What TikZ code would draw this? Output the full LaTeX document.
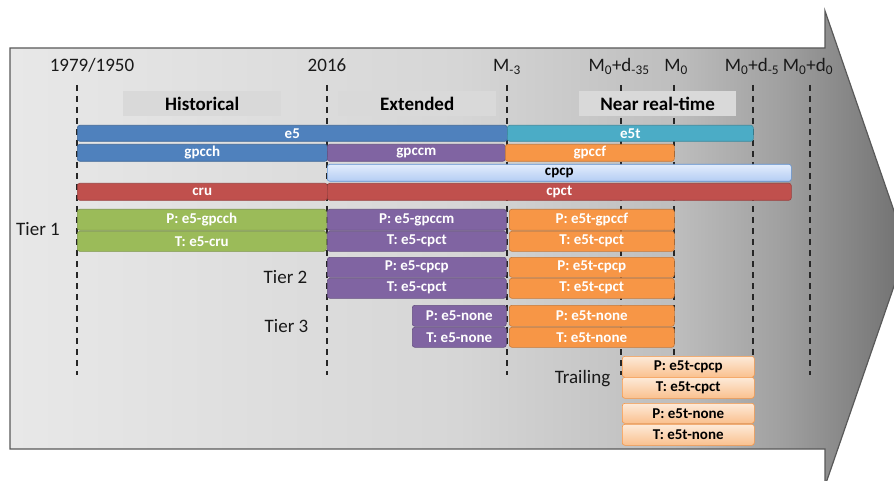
\documentclass[tikz,border=0pt]{standalone}
\usepackage{fontspec}
\setmainfont{Carlito}
\usetikzlibrary{positioning}
\definecolor{eblue}{RGB}{79,129,189}
\definecolor{eteal}{RGB}{75,172,198}
\definecolor{epurple}{RGB}{128,100,162}
\definecolor{eorange}{RGB}{247,150,70}
\definecolor{ered}{RGB}{192,80,77}
\definecolor{egreen}{RGB}{155,187,89}
\definecolor{hdrgray}{RGB}{217,217,217}
\definecolor{cpcpA}{RGB}{226,236,252}
\definecolor{cpcpB}{RGB}{180,205,243}
\definecolor{cpcpE}{RGB}{95,145,210}
\definecolor{trailA}{RGB}{253,234,217}
\definecolor{trailB}{RGB}{250,192,142}
\definecolor{trailE}{RGB}{247,150,70}
\definecolor{bgA}{RGB}{232,232,232}
\definecolor{bgB}{RGB}{214,214,214}
\definecolor{bgC}{RGB}{190,190,190}
\definecolor{bgD}{RGB}{160,160,160}
\definecolor{bgE}{RGB}{112,112,112}
\pgfdeclarehorizontalshading{timeshade}{100bp}{color(0bp)=(bgA); color(25bp)=(bgA);
  color(50bp)=(bgB); color(62bp)=(bgC); color(68bp)=(bgD); color(75bp)=(bgE); color(100bp)=(bgE)}
\tikzset{
  epochline/.style={dash pattern=on 6pt off 5pt,line width=1.3pt,draw=black!85},
  when/.style={font=\fontsize{19}{21}\selectfont,text=black!90,inner sep=0pt},
  phase/.style={fill=hdrgray,minimum width=158,minimum height=25,inner sep=0pt,
    anchor=north west,font=\fontsize{19}{21}\selectfont\bfseries},
  strip/.style={draw=#1!80!black,fill=#1,rounded corners=2.5pt,line width=0.6pt,
    text=white,inner sep=0pt,anchor=north west,font=\fontsize{15}{17}\selectfont\bfseries},
  strip/.default=eblue,
  pale/.style={draw=#1E,top color=#1A,bottom color=#1B,rounded corners=2.5pt,line width=0.6pt,
    text=black,inner sep=0pt,anchor=north west,font=\fontsize{15}{17}\selectfont\bfseries},
  tier/.style={font=\fontsize{19}{21}\selectfont,text=black!90,inner sep=0pt},
}
\begin{document}
\begin{tikzpicture}[x=1pt,y=-1pt]
  \useasboundingbox (0,0) rectangle (894,481);
  \clip (0,0) rectangle (894,481);
  % the time arrow
  \shadedraw[shading=timeshade,draw=black!65,line width=1.2pt]
    (10,48) -- (825,48) -- (825,11) -- (907,248.5) -- (825,486) -- (825,449) -- (10,449) -- cycle;
  % epochs
  \foreach \x/\lx/\lbl/\nm in {77/92/{1979/1950}/y1979, 327/327/2016/y2016, 507/507/{M\textsubscript{-3}}/mm3,
      621/619/{M\textsubscript{0}+d\textsubscript{-35}}/md35, 674/676/{M\textsubscript{0}}/m0,
      753/752/{M\textsubscript{0}+d\textsubscript{-5}}/md5, 810/808/{M\textsubscript{0}+d\textsubscript{0}}/md0}{
    \coordinate (\nm-top) at (\x,85);
    \coordinate (\nm-bot) at (\x,375);
    \draw[epochline] (\nm-top) -- (\nm-bot);
    \node[when,anchor=base] (\nm) at (\lx,72) {\lbl};
  }
  % phases
  \node[phase] (hist) at (123,91) {Historical};
  \node[phase] (ext) at (338,91) {Extended};
  \node[phase,minimum width=157] (nrt) at (579,91) {Near real-time};
  % input streams
  \node[strip=eblue,minimum width=430,minimum height=16] (e5) at (77,125) {e5};
  \node[strip=eteal,minimum width=246,minimum height=16] (e5t) at (507,125) {e5t};
  \node[strip=eblue,minimum width=250,minimum height=17] (gpcch) at (77,144) {gpcch};
  \node[strip=epurple,minimum width=178,minimum height=17] (gpccm) at (327,144) {gpccm};
  \node[strip=eorange,minimum width=169,minimum height=17] (gpccf) at (505,144) {gpccf};
  \node[pale=cpcp,minimum width=464,minimum height=17] (cpcp) at (327,164) {cpcp};
  \node[strip=ered,minimum width=250,minimum height=17] (cru) at (77,183) {cru};
  \node[strip=ered,minimum width=464,minimum height=17] (cpct) at (327,183) {cpct};
  % tier 1
  \node[strip=egreen,minimum width=249,minimum height=21] (t1p5) at (77,209) {P: e5-gpcch};
  \node[strip=egreen,minimum width=249,minimum height=20] (t1t5) at (77,231) {T: e5-cru};
  \node[strip=epurple,minimum width=179,minimum height=21] (t1pm) at (327,209) {P: e5-gpccm};
  \node[strip=epurple,minimum width=179,minimum height=20] (t1tm) at (327,231) {T: e5-cpct};
  \node[strip=eorange,minimum width=165,minimum height=21] (t1pf) at (509,209) {P: e5t-gpccf};
  \node[strip=eorange,minimum width=165,minimum height=20] (t1tf) at (509,231) {T: e5t-cpct};
  % tier 2
  \node[strip=epurple,minimum width=179,minimum height=20] (t2pm) at (327,257) {P: e5-cpcp};
  \node[strip=epurple,minimum width=179,minimum height=20] (t2tm) at (327,278) {T: e5-cpct};
  \node[strip=eorange,minimum width=165,minimum height=20] (t2pf) at (509,257) {P: e5t-cpcp};
  \node[strip=eorange,minimum width=165,minimum height=20] (t2tf) at (509,278) {T: e5t-cpct};
  % tier 3
  \node[strip=epurple,minimum width=94,minimum height=21] (t3pm) at (412,305) {P: e5-none};
  \node[strip=epurple,minimum width=94,minimum height=20] (t3tm) at (412,327) {T: e5-none};
  \node[strip=eorange,minimum width=165,minimum height=21] (t3pf) at (509,305) {P: e5t-none};
  \node[strip=eorange,minimum width=165,minimum height=20] (t3tf) at (509,327) {T: e5t-none};
  % trailing
  \node[pale=trail,minimum width=132,minimum height=21] (trp1) at (622,356) {P: e5t-cpcp};
  \node[pale=trail,minimum width=132,minimum height=21] (trt1) at (622,377) {T: e5t-cpct};
  \node[pale=trail,minimum width=132,minimum height=20] (trp2) at (622,403) {P: e5t-none};
  \node[pale=trail,minimum width=132,minimum height=21] (trt2) at (622,424) {T: e5t-none};
  % tier labels
  \node[tier] (tier1) at (38,229) {Tier 1};
  \node[tier] (tier2) at (285.5,277.5) {Tier 2};
  \node[tier] (tier3) at (286.5,326.5) {Tier 3};
  \node[tier,anchor=base] (trail) at (582.5,383) {Trailing};
\end{tikzpicture}
\end{document}
